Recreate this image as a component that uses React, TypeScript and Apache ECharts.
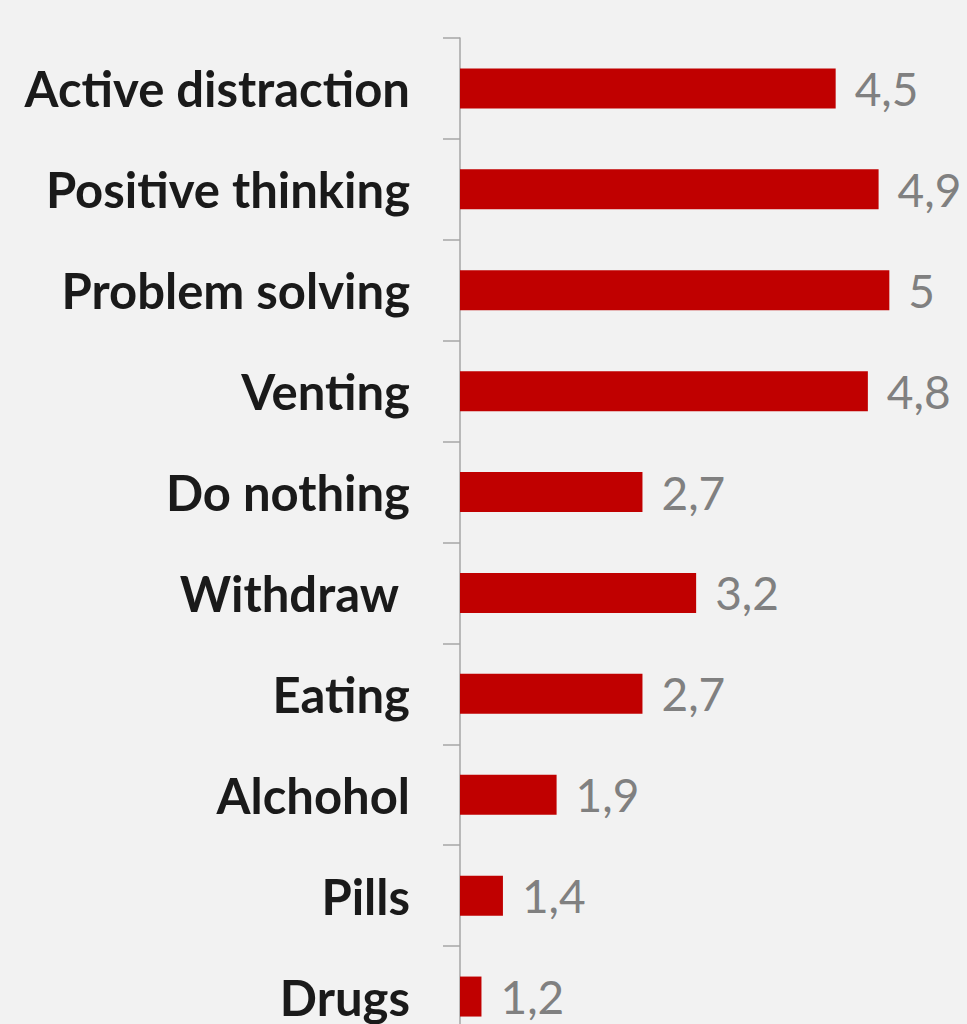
import React, { useEffect, useRef } from "react";
import * as echarts from "echarts";

const categories = [
  "Active distraction",
  "Positive thinking",
  "Problem solving",
  "Venting",
  "Do nothing",
  "Withdraw ",
  "Eating",
  "Alchohol",
  "Pills",
  "Drugs",
];
const values = [4.5, 4.9, 5, 4.8, 2.7, 3.2, 2.7, 1.9, 1.4, 1.2];

export default function App() {
  const ref = useRef<HTMLDivElement>(null);
  useEffect(() => {
    if (!ref.current) return;
    const chart = echarts.init(ref.current, undefined, { renderer: "svg" });
    chart.setOption({
      animation: false,
      backgroundColor: "#f2f2f2",
      grid: { left: 460, top: 38, width: 483, height: 1009 },
      xAxis: {
        type: "value",
        min: 1,
        max: 5.5,
        show: false,
        splitLine: { show: false },
      },
      yAxis: {
        type: "category",
        data: categories,
        inverse: true,
        axisLine: { show: true, lineStyle: { color: "#a6a6a6", width: 1.5 } },
        axisTick: { show: true, length: 17, lineStyle: { color: "#a6a6a6", width: 1.5 } },
        axisLabel: {
          margin: 50,
          fontFamily: "Lato",
          fontWeight: "bold",
          fontSize: 49,
          color: "#1a1a1a",
        },
      },
      series: [
        {
          type: "bar",
          data: values,
          barWidth: 40,
          itemStyle: { color: "#c00000" },
          label: {
            show: true,
            position: "right",
            distance: 19,
            fontFamily: "Lato",
            fontSize: 46,
            color: "#808080",
            formatter: (p: any) => String(p.value).replace(".", ","),
          },
        },
      ],
    });
    return () => chart.dispose();
  }, []);
  return (
    <div
      style={{
        position: "absolute",
        left: 0,
        top: 0,
        width: 967,
        height: 1024,
        overflow: "hidden",
        background: "#f2f2f2",
      }}
    >
      <div ref={ref} style={{ width: 967, height: 1060 }} />
    </div>
  );
}
